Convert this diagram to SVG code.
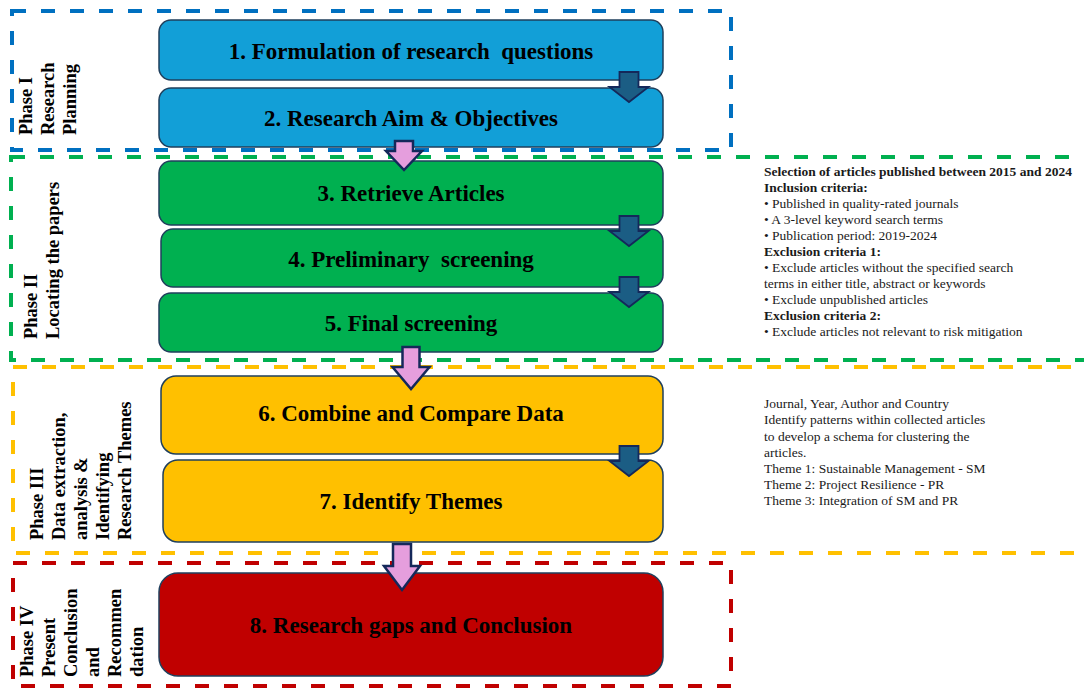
<svg xmlns="http://www.w3.org/2000/svg" width="1084" height="688" viewBox="0 0 1084 688">
  <style>
    .phase { fill: none; stroke-width: 4; stroke-dasharray: 14 15; }
    .step { stroke: #1f3f5c; stroke-width: 1.5; }
    .title { font-family: "Liberation Serif", "Times New Roman", serif; font-weight: bold; font-size: 23px; fill: #000; text-anchor: middle; white-space: pre; }
    .plabel { font-family: "Liberation Serif", "Times New Roman", serif; font-weight: bold; font-size: 18.5px; fill: #000; }
    .note { font-family: "Liberation Serif", "Times New Roman", serif; font-size: 13.5px; fill: #1a1a1a; }
    .note .b { font-weight: bold; }
    .down { fill: #1b5d84; stroke: #14285a; stroke-width: 1.8; stroke-linejoin: miter; }
    .flow { fill: #e59edd; stroke: #14285a; stroke-width: 2.5; stroke-linejoin: miter; }
  </style>

  <rect width="1084" height="688" fill="#fff"/>

  <!-- phase frames -->
  <g id="phase-frames">
    <rect class="phase" x="12" y="11" width="719" height="139" stroke="#0070c0"/>
    <rect class="phase" x="11" y="157" width="1090" height="203" stroke="#00b050"/>
    <rect class="phase" x="13" y="367" width="1090" height="186" stroke="#ffc000"/>
    <rect class="phase" x="13" y="563" width="718" height="123" stroke="#c00000"/>
  </g>

  <!-- phase labels -->
  <g id="label-phase1" class="plabel">
    <text transform="translate(32,135) rotate(-90)">Phase I</text>
    <text transform="translate(54,135) rotate(-90)">Research</text>
    <text transform="translate(76,135) rotate(-90)">Planning</text>
  </g>
  <g id="label-phase2" class="plabel">
    <text transform="translate(37,339) rotate(-90)">Phase II</text>
    <text transform="translate(59,339) rotate(-90)">Locating the papers</text>
  </g>
  <g id="label-phase3" class="plabel">
    <text transform="translate(43,540) rotate(-90)">Phase III</text>
    <text transform="translate(65,540) rotate(-90)">Data extraction,</text>
    <text transform="translate(87,540) rotate(-90)">analysis &amp;</text>
    <text transform="translate(109,540) rotate(-90)">Identifying</text>
    <text transform="translate(131,540) rotate(-90)">Research Themes</text>
  </g>
  <g id="label-phase4" class="plabel">
    <text transform="translate(33,677) rotate(-90)">Phase IV</text>
    <text transform="translate(55,677) rotate(-90)">Present</text>
    <text transform="translate(77,677) rotate(-90)">Conclusion</text>
    <text transform="translate(99,677) rotate(-90)">and</text>
    <text transform="translate(121,677) rotate(-90)">Recommen</text>
    <text transform="translate(143,677) rotate(-90)">dation</text>
  </g>

  <!-- steps -->
  <g id="step1">
    <rect class="step" x="159" y="20" width="504" height="60" rx="12" fill="#129fd7"/>
    <text class="title" x="411" y="59">1. Formulation of research  questions</text>
  </g>
  <g id="step2">
    <rect class="step" x="159" y="88" width="504" height="59" rx="12" fill="#129fd7"/>
    <text class="title" x="411" y="126">2. Research Aim &amp; Objectives</text>
  </g>
  <g id="step3">
    <rect class="step" x="159" y="161" width="504" height="64" rx="12" fill="#00b050"/>
    <text class="title" x="411" y="201">3. Retrieve Articles</text>
  </g>
  <g id="step4">
    <rect class="step" x="161" y="229" width="502" height="58" rx="12" fill="#00b050"/>
    <text class="title" x="411" y="267">4. Preliminary  screening</text>
  </g>
  <g id="step5">
    <rect class="step" x="159" y="293" width="504" height="59" rx="12" fill="#00b050"/>
    <text class="title" x="411" y="331">5. Final screening</text>
  </g>
  <g id="step6">
    <rect class="step" x="161" y="376" width="502" height="78" rx="15" fill="#ffc000"/>
    <text class="title" x="411" y="421">6. Combine and Compare Data</text>
  </g>
  <g id="step7">
    <rect class="step" x="163" y="460" width="500" height="82" rx="15" fill="#ffc000"/>
    <text class="title" x="411" y="509">7. Identify Themes</text>
  </g>
  <g id="step8">
    <rect class="step" x="159" y="573" width="504" height="103" rx="19" fill="#c00000"/>
    <text class="title" x="411" y="633">8. Research gaps and Conclusion</text>
  </g>

  <!-- connectors -->
  <g id="connectors">
    <!-- within-phase block arrows -->
    <path class="down" d="M619.5 72 H638.5 V87 H648.5 L629 102 L609.5 87 H619.5 Z"/>
    <path class="down" d="M619.5 216 H638.5 V231 H648.5 L629 246 L609.5 231 H619.5 Z"/>
    <path class="down" d="M619.5 277 H638.5 V292 H648.5 L629 307 L609.5 292 H619.5 Z"/>
    <path class="down" d="M619.5 446 H638.5 V461 H648.5 L629 476 L609.5 461 H619.5 Z"/>
    <!-- between-phase arrows -->
    <path class="flow" d="M395 141 H413 V151 H422 L404 170 L386 151 H395 Z"/>
    <path class="flow" d="M402.5 347 H419.5 V367 H429.5 L411 389 L392.5 367 H402.5 Z"/>
    <path class="flow" d="M393 544 H411 V566 H420 L402 590 L384 566 H393 Z"/>
  </g>

  <!-- side notes -->
  <g id="note-phase2" class="note">
    <text x="764" y="176" class="b">Selection of articles published between 2015 and 2024</text>
    <text x="764" y="192" class="b">Inclusion criteria:</text>
    <text x="764" y="208">• Published in quality-rated journals</text>
    <text x="764" y="224">• A 3-level keyword search terms</text>
    <text x="764" y="240">• Publication period: 2019-2024</text>
    <text x="764" y="256" class="b">Exclusion criteria 1:</text>
    <text x="764" y="272">• Exclude articles without the specified search</text>
    <text x="764" y="288">terms in either title, abstract or keywords</text>
    <text x="764" y="304">• Exclude unpublished articles</text>
    <text x="764" y="320" class="b">Exclusion criteria 2:</text>
    <text x="764" y="336">• Exclude articles not relevant to risk mitigation</text>
  </g>
  <g id="note-phase3" class="note">
    <text x="764" y="408">Journal, Year, Author and Country</text>
    <text x="764" y="424">Identify patterns within collected articles</text>
    <text x="764" y="440.5">to develop a schema for clustering the</text>
    <text x="764" y="457">articles.</text>
    <text x="764" y="473">Theme 1: Sustainable Management - SM</text>
    <text x="764" y="489">Theme 2: Project Resilience - PR</text>
    <text x="764" y="505">Theme 3: Integration of SM and PR</text>
  </g>
</svg>
